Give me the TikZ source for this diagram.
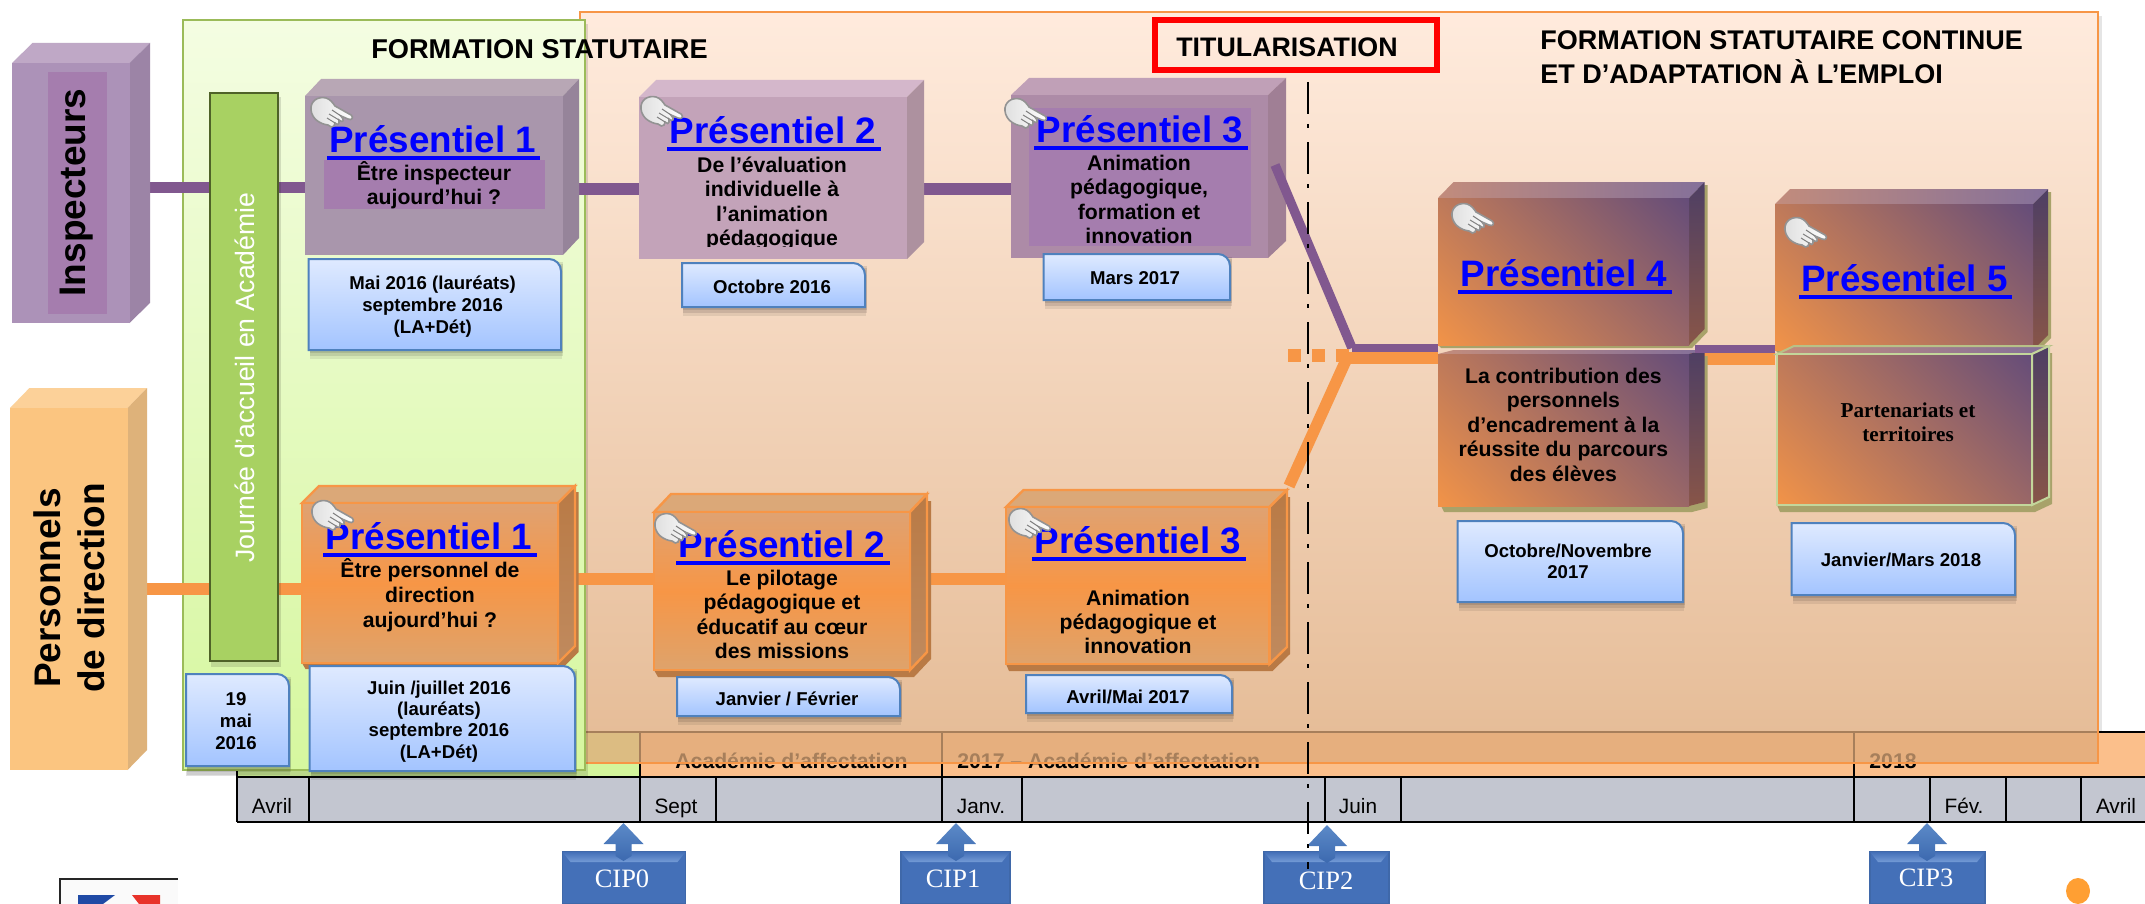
\documentclass[tikz,border=0pt]{standalone}
\usepackage{fontspec}
\setmainfont{Liberation Sans}
\newfontfamily\serifx{Liberation Serif}
\usetikzlibrary{fit}
\pgfdeclarelayer{bg}\pgfdeclarelayer{conn}\pgfsetlayers{bg,conn,main}
\definecolor{purp}{HTML}{81588F}
\definecolor{oran}{HTML}{F79646}
\definecolor{olv}{HTML}{A8A26A}
\definecolor{brd}{HTML}{4F81BD}
\definecolor{vio}{HTML}{A57DAE}
\definecolor{pgA}{HTML}{604A7B}
\definecolor{grayrow}{HTML}{C3C6D0}
\definecolor{dfa272}{HTML}{DFA272}\definecolor{dea36c}{HTML}{DEA36C}
\definecolor{dba878}{HTML}{DBA878}\definecolor{dca97a}{HTML}{DCA97A}
\definecolor{extrO}{HTML}{B97A45}\definecolor{sideOb}{HTML}{C08A5E}
\definecolor{topPa}{HTML}{C28C7C}\definecolor{topPb}{HTML}{84709A}
\definecolor{sidePa}{HTML}{4E3F64}\definecolor{sidePb}{HTML}{885548}
\definecolor{lgr}{HTML}{C3D69B}
\definecolor{dtop}{HTML}{DFEAFF}\definecolor{dbot}{HTML}{A3C4FF}
\pgfdeclareverticalshading{diagP}{100bp}{color(0bp)=(pgA);color(12bp)=(pgA);color(88bp)=(oran);color(100bp)=(oran)}
\tikzset{
 railP/.style={draw=purp,line width=5.75pt},
 railO/.style={draw=oran,line width=5.75pt},
 cellb/.style={draw=black,line width=1pt},
 dshade/.style={top color=dtop,bottom color=dbot},
 I0f/.style={fill={rgb,255:red,172;green,146;blue,184}},I0t/.style={fill={rgb,255:red,191;green,168;blue,198}},I0s/.style={fill={rgb,255:red,156;green,132;blue,166}},
 O0f/.style={fill={rgb,255:red,251;green,197;blue,128}},O0t/.style={fill={rgb,255:red,252;green,209;blue,153}},O0s/.style={fill={rgb,255:red,222;green,178;blue,122}},
 I1f/.style={fill={rgb,255:red,169;green,150;blue,172}},I1t/.style={fill={rgb,255:red,184;green,167;blue,181}},I1s/.style={fill={rgb,255:red,150;green,132;blue,154}},
 I2f/.style={fill={rgb,255:red,195;green,163;blue,185}},I2t/.style={fill={rgb,255:red,212;green,183;blue,203}},I2s/.style={fill={rgb,255:red,173;green,145;blue,159}},
 I3f/.style={fill={rgb,255:red,173;green,139;blue,167}},I3t/.style={fill={rgb,255:red,192;green,160;blue,183}},I3s/.style={fill={rgb,255:red,160;green,127;blue,149}},
 Df/.style={draw=oran,line width=1.2pt,top color=dfa272,bottom color=dea36c,middle color=oran},
 Dt/.style={draw=oran,line width=1.2pt,fill=dba878},
 Ds/.style={draw=oran,line width=1.2pt,top color=extrO,bottom color=sideOb},
 Pf/.style={shade,shading=diagP,shading angle=135},
 Pt/.style={left color=topPa,right color=topPb},
 Ps/.style={top color=sidePa,bottom color=sidePb},
 Qf/.style={draw=lgr,line width=1pt,shade,shading=diagP,shading angle=135},
 Qt/.style={draw=lgr!60!olv,line width=1pt,left color=topPa,right color=topPb},
 Qs/.style={draw=lgr,line width=1pt,top color=sidePa,bottom color=sidePb},
}
% multi-line text whose anchor is the first baseline
\newcommand\mlt[6][]{\node[anchor=base,inner sep=0pt,#1] (#2) at (#3) {\fontsize{#4}{#5}\selectfont\begin{tabular}[t]{@{}c@{}}#6\end{tabular}};}
% cuboid: name,x1,y1,x2,y2,dx,dy,style family
\newcommand\cub[8]{%
 \path[#8t] (#2,#3) -- (#2+#6,#3-#7) -- (#4+#6,#3-#7) -- (#4,#3) -- cycle;
 \path[#8s] (#4,#3) -- (#4+#6,#3-#7) -- (#4+#6,#5-#7) -- (#4,#5) -- cycle;
 \node[fit={(#2,#3) (#4,#5)},inner sep=0pt,#8f] (#1) {};}
% extrusion behind a cuboid: x1,y1,x2,y2,dx,dy,ex,ey,colour
\newcommand\extr[9]{\fill[#9] (#3+#5,#2-#6+#8) -- (#3+#5+#7,#2-#6+#8) -- (#3+#5+#7,#4-#6+#8) -- (#3+#7,#4+#8) -- (#1+#7,#4+#8) -- (#1,#4) -- (#3,#4) -- cycle;}
% date box: x1,y1,x2,y2
\newcommand\dbox[4]{%
 \fill[black,opacity=.10] (#1+1,#2+3) rectangle (#3+2,#4+3);
 \fill[black,opacity=.10] (#1+1,#2+5) rectangle (#3+2,#4+6);
 \fill[black,opacity=.08] (#1+1,#2+7) rectangle (#3+1,#4+9);
 \path[draw=brd,line width=1pt,dshade] (#1,#2) [rounded corners=6pt] -- (#3,#2) [sharp corners] -- (#3,#4) -- (#1,#4) -- cycle;}
% title of a session, underlined
\newcommand\ptitle[4]{\node[anchor=base,inner sep=0pt,text=blue,font=\fontsize{18.4}{20}\selectfont\bfseries] (#1) at (#2,#3) {#4};
 \draw[blue,line width=2pt] ([yshift=-3pt,xshift=-1pt]#1.base west) -- ([yshift=-3pt,xshift=2pt]#1.base east);}
% pointing hand
\newcommand\hand[2]{\begin{scope}[shift={(#1,#2)}]
 \path[draw=gray!85,line width=.8pt,left color=gray!25,right color=white] (1,13) .. controls (0,4) and (8,-1) .. (16,1) .. controls (20,2) and (23,6) .. (25,9) -- (41,18) .. controls (44,20) and (42,24) .. (38,22) -- (31,19) -- (33,22) .. controls (34,25) and (31,25) .. (29,23) -- (29,26) .. controls (29,28) and (27,28) .. (25,26) -- (24,29) .. controls (23,31) and (20,30) .. (18,28) .. controls (10,27) and (2,22) .. (1,13) -- cycle;
 \draw[gray,line width=.5pt] (22,13) -- (31,19) (19,17) -- (29,23) (17,21) -- (25,26);
\end{scope}}
% CIP: name,x1,x2,tipx,tipy,textx,texty,label
\newcommand\cip[8]{%
 \node[fit={(#2,852) (#3,904)},inner sep=0pt,fill={rgb,255:red,68;green,112;blue,184},draw={rgb,255:red,63;green,104;blue,169},line width=.6pt] (#1) {};
 \path[top color={rgb,255:red,68;green,112;blue,184},bottom color={rgb,255:red,116;green,155;blue,214}] (#2,852) -- (#3,852) -- (#3-8,862) -- (#2+8,862) -- cycle;
 \path[top color={rgb,255:red,92;green,138;blue,200},bottom color={rgb,255:red,60;green,105;blue,175}] (#4,#5) -- (#4+20,#5+21) -- (#4+8,#5+21) -- (#4+8,#5+33) -- (#4,#5+38) -- (#4-8,#5+33) -- (#4-8,#5+21) -- (#4-20,#5+21) -- cycle;
 \node[anchor=base,inner sep=0pt,text=white,font=\serifx\fontsize{13.25}{15}\selectfont] (#1t) at (#6,#7) {#8};}
\newcommand\mon[4]{\node[anchor=base,inner sep=0pt,font=\fontsize{10.4}{12}\selectfont] (#1) at (#2,#3) {#4};}
\newcommand\yr[4]{\node[anchor=base west,inner sep=0pt,font=\fontsize{10.6}{12}\selectfont\bfseries] (#1) at (#2,#3) {#4};}
\begin{document}
\begin{tikzpicture}[x=.5pt,y=-.5pt]
\useasboundingbox (0,0) rectangle (2145,904);
\begin{pgfonlayer}{bg}
 \fill[white] (0,0) rectangle (2145,904);
 % orange frame
 \fill[black,opacity=.10] (584,16) rectangle (2102,768);
 \shade[top color={rgb,255:red,255;green,235;blue,221},middle color={rgb,255:red,255;green,211;blue,174},bottom color={rgb,255:red,230;green,189;blue,152}] (579.5,12) rectangle (2098,733);
 % timeline, upper row
 \fill[fill={rgb,255:red,251;green,191;blue,139}] (640,732) rectangle (2145,777);
 \fill[fill={rgb,255:red,212;green,245;blue,156}] (236.5,732) rectangle (640,777);
 \draw[cellb] (236.5,732) -- (2145,732) (236.5,732) -- (236.5,777) (640,732) -- (640,777) (942,732) -- (942,777) (1854,732) -- (1854,777);
 \yr{yA}{675}{768}{Académie d’affectation}
 \yr{yB}{957}{768}{2017 – Académie d’affectation}
 \yr{yC}{1869}{768}{2018}
 % part of the row seen through the orange frame
 \fill[fill={rgb,255:red,223;green,170;blue,122},opacity=.75] (579.5,731) rectangle (2098,763);
 \draw[draw=oran,line width=1pt] (579.5,12) rectangle (2098,763);
 % timeline, lower row
 \path[fill=grayrow] (236.5,777) rectangle (2145,822);
 \draw[cellb] (236.5,777) -- (2145,777) (236.5,822) -- (2145,822);
 \foreach \xx in {236.5,309,640,716,942,1022,1325,1401,1854,1930,2006,2081} {\draw[cellb] (\xx,777) -- (\xx,822);}
 \mon{m1}{272}{813}{Avril}
 \mon{m2}{676}{813}{Sept}
 \mon{m3}{981}{813}{Janv.}
 \mon{m4}{1358}{813}{Juin}
 \mon{m5}{1964}{813}{Fév.}
 \mon{m6}{2116}{813}{Avril}
 % green frame
 \fill[black,opacity=.12] (186,24) rectangle (588,776);
 \shade[top color={rgb,255:red,244;green,253;blue,226},bottom color={rgb,255:red,214;green,247;blue,159},draw={rgb,255:red,155;green,187;blue,89},line width=1pt] (183,20) rectangle (584.5,770);
 % titles on the frames
 \node[anchor=base,inner sep=0pt,font=\fontsize{13.6}{15}\selectfont\bfseries] (t1) at (539.5,59) {FORMATION STATUTAIRE};
 \node[anchor=base west,inner sep=0pt] (t3) at (1540,50) {\fontsize{13.5}{15.5}\selectfont\begin{tabular}[t]{@{}l@{}}\bfseries FORMATION STATUTAIRE CONTINUE\\\bfseries ET D’ADAPTATION À L’EMPLOI\end{tabular}};
 \node[fit={(1155,20) (1437,70)},inner sep=0pt,draw=red,line width=2.75pt] (tb) {};
 \node[anchor=base,inner sep=0pt,font=\fontsize{13.4}{15}\selectfont\bfseries] (t2) at (1287,57) {TITULARISATION};
\end{pgfonlayer}

% audience blocks
\cub{nI}{12}{63}{129.5}{323}{20.5}{20}{I0}
\path[fill=vio] (48,72) rectangle (107,314);
\node[anchor=base,inner sep=0pt,rotate=90,font=\fontsize{18.5}{20}\selectfont\bfseries] (nIt) at (85.4,192.5) {Inspecteurs};
\cub{nO}{10}{408}{127.6}{770}{19.4}{20}{O0}
\mlt[rotate=90]{nOt}{60,588}{18.5}{22.35}{\bfseries Personnels\\\bfseries de direction}

% welcome bar
\fill[black,opacity=.12] (211,97) rectangle (281,667);
\node[fit={(210,93) (278,661)},inner sep=0pt,fill={rgb,255:red,168;green,209;blue,98},draw={rgb,255:red,79;green,98;blue,40},line width=1pt] (bar) {};
\node[anchor=base,inner sep=0pt,rotate=90,text=white,font=\fontsize{13.3}{15}\selectfont] (bart) at (254,377.5) {Journée d’accueil en Académie};

% inspectors' sessions
\cub{pI1}{305}{96}{563}{255}{16}{17}{I1}
\path[fill=vio] (324,160) rectangle (545,209);
\cub{pI2}{639}{97}{907}{259}{17}{17}{I2}
\cub{pI3}{1011}{95}{1268}{258}{18}{17}{I3}
\path[fill=vio] (1029,108) rectangle (1251,246);

% principals' sessions
\extr{302}{503}{558}{663}{17}{17}{3.5}{6}{extrO}
\cub{pD1}{302}{503}{558}{663}{17}{17}{D}
\extr{654}{512}{910}{670}{17}{18}{4}{7}{extrO}
\cub{pD2}{654}{512}{910}{670}{17}{18}{D}
\extr{1006}{507}{1269.5}{664}{17.5}{17}{3}{7}{extrO}
\cub{pD3}{1006}{507}{1269.5}{664}{17.5}{17}{D}

% sessions 4 and 5
\extr{1438}{198}{1689}{345}{15.5}{16}{3}{3}{olv}
\cub{p4}{1438}{198}{1689}{345}{15.5}{16}{P}
\extr{1441}{354}{1689}{506}{15.5}{4}{3}{6}{olv}
\cub{p4b}{1438}{354}{1689}{506}{15.5}{4}{P}
\extr{1775}{204}{2033}{350}{15}{15}{3}{3}{olv}
\cub{p5}{1775}{204}{2033}{350}{15}{15}{P}
\extr{1777}{354}{2032}{505}{17}{8}{3}{7}{olv}
\cub{p5b}{1777}{354}{2032}{505}{17}{8}{Q}

% connectors under the blocks
\coordinate (rA) at (0,187.5); \coordinate (rB) at (0,189);
\coordinate (rC) at (0,589); \coordinate (rD) at (0,579);
\coordinate (sI3) at (1275,165); \coordinate (jP) at (1352,348);
\coordinate (sD3) at (1289,486); \coordinate (jO) at (1347,358);
\coordinate (dotS) at (1288,355.5); \coordinate (dotE) at (1349,355.5);
\coordinate (rE) at (0,349); \coordinate (rF) at (0,359);
\coordinate (sE) at (1695,349);
\begin{pgfonlayer}{conn}
 \draw[railP] (nI.east |- rA) -- (pI1.west |- rA);
 \draw[railP] (pI1.east |- rB) -- (pI2.west |- rB);
 \draw[railP] (pI2.east |- rB) -- (pI3.west |- rB);
 \draw[railO] (nO.east |- rC) -- (pD1.west |- rC);
 \draw[railO] (pD1.east |- rD) -- (pD2.west |- rD);
 \draw[railO] (pD2.east |- rD) -- (pD3.west |- rD);
 \draw[railO] (p4.east |- rF) -- (p5.west |- rF);
\end{pgfonlayer}
\draw[railP,line width=4.7pt] (sI3) -- (jP);
\draw[railP,line width=4pt] (jP) -- (p4.west |- jP);
\draw[railP,line width=4pt] (sE) -- (p5.west |- rE);
\draw[oran,line width=6.5pt,dash pattern=on 6.5pt off 5.5pt] (dotS) -- (dotE);
\draw[railO] (sD3) -- (jO);
\draw[railO] (jO) -- (p4.west |- jO);

% session titles and texts
\ptitle{tI1}{432.7}{152}{Présentiel 1}
\ptitle{tI2}{773}{143}{Présentiel 2}
\ptitle{tI3}{1140}{142}{Présentiel 3}
\ptitle{tD1}{429}{549}{Présentiel 1}
\ptitle{tD2}{782}{557}{Présentiel 2}
\ptitle{tD3}{1138}{553}{Présentiel 3}
\ptitle{t4}{1564}{286}{Présentiel 4}
\ptitle{t5}{1904.5}{291}{Présentiel 5}

\mlt{bI1}{434,180}{10.6}{12}{\bfseries Être inspecteur\\\bfseries aujourd’hui ?}
\begin{scope}
 \clip (639,97) rectangle (907,246);
 \mlt{bI2}{772,172}{10.6}{12.25}{\bfseries De l’évaluation\\\bfseries individuelle à\\\bfseries l’animation\\\bfseries pédagogique}
\end{scope}
\mlt{bI3}{1139,170}{10.6}{12.25}{\bfseries Animation\\\bfseries pédagogique,\\\bfseries formation et\\\bfseries innovation}
\mlt{bD1}{430,577}{10.6}{12.5}{\bfseries Être personnel de\\\bfseries direction\\\bfseries aujourd’hui ?}
\mlt{bD2}{782,585}{10.6}{12.3}{\bfseries Le pilotage\\\bfseries pédagogique et\\\bfseries éducatif au cœur\\\bfseries des missions}
\mlt{bD3}{1138,605}{10.6}{12.1}{\bfseries Animation\\\bfseries pédagogique et\\\bfseries innovation}
\mlt{b4}{1563.4,383}{10.6}{12.25}{\bfseries La contribution des\\\bfseries personnels\\\bfseries d’encadrement à la\\\bfseries réussite du parcours\\\bfseries des élèves}
\mlt{b5}{1908,417}{10.6}{12}{\serifx\bfseries Partenariats et\\\serifx\bfseries territoires}

% date boxes
\dbox{308.5}{259}{561}{350}
\mlt{dI1}{432.7,289}{9.3}{11}{\bfseries Mai 2016 (lauréats)\\\bfseries septembre 2016\\\bfseries (LA+Dét)}
\dbox{682}{263}{865}{307}
\mlt{dI2}{772,293}{9.3}{11}{\bfseries Octobre 2016}
\dbox{1043.5}{254}{1230}{300}
\mlt{dI3}{1135,284}{9.3}{11}{\bfseries Mars 2017}
\dbox{186}{674}{289}{766}
\mlt{d19}{236,705}{9.3}{11}{\bfseries 19\\\bfseries mai\\\bfseries 2016}
\dbox{309.5}{666}{575}{771}
\mlt{dD1}{439,694}{9.3}{10.7}{\bfseries Juin /juillet 2016\\\bfseries (lauréats)\\\bfseries septembre 2016\\\bfseries (LA+Dét)}
\dbox{677}{677}{900}{716}
\mlt{dD2}{787,705}{9.3}{11}{\bfseries Janvier / Février}
\dbox{1026}{675}{1232}{713}
\mlt{dD3}{1128,703}{9.3}{11}{\bfseries Avril/Mai 2017}
\dbox{1457.5}{521}{1683}{602}
\mlt{d4}{1568,557}{9.3}{10.5}{\bfseries Octobre/Novembre\\\bfseries 2017}
\dbox{1791.5}{523}{2015}{595}
\mlt{d5}{1901,566}{9.3}{11}{\bfseries Janvier/Mars 2018}

% pointing hands
\hand{310}{97}\hand{640}{96}\hand{1004}{98}
\hand{311}{500}\hand{654}{513}\hand{1008}{508}
\hand{1451}{203}\hand{1784}{217}

% CIP markers
\cip{c0}{562.5}{685.5}{623.5}{823}{622}{887}{CIP0}
\cip{c1}{901}{1010}{956}{823}{953}{887}{CIP1}
\cip{c2}{1264}{1389}{1327}{825}{1326}{889}{CIP2}
\cip{c3}{1870}{1985}{1927}{823}{1926}{886}{CIP3}

% titularisation line
\coordinate (tlA) at (1308,82); \coordinate (tlB) at (1308,869);
\draw[black,line width=1.4pt,dash pattern=on 16pt off 5pt on 2pt off 7pt] (tlA) -- (tlB);

% orange dot and logo
\fill[fill={rgb,255:red,255;green,159;blue,51}] (2078,891) ellipse [x radius=12,y radius=13];
\fill[fill={rgb,255:red,250;green,250;blue,250}] (60,879) rectangle (178,904);
\draw[black!85,line width=1pt] (60,904) -- (60,879) -- (178,879);
\fill[fill={rgb,255:red,31;green,74;blue,165}] (78,895) -- (115,895) -- (103,904) -- (78,904) -- cycle;
\fill[fill={rgb,255:red,232;green,51;blue,42}] (132,895) -- (160,895) -- (160,904) -- (139,904) -- cycle;
\end{tikzpicture}
\end{document}
